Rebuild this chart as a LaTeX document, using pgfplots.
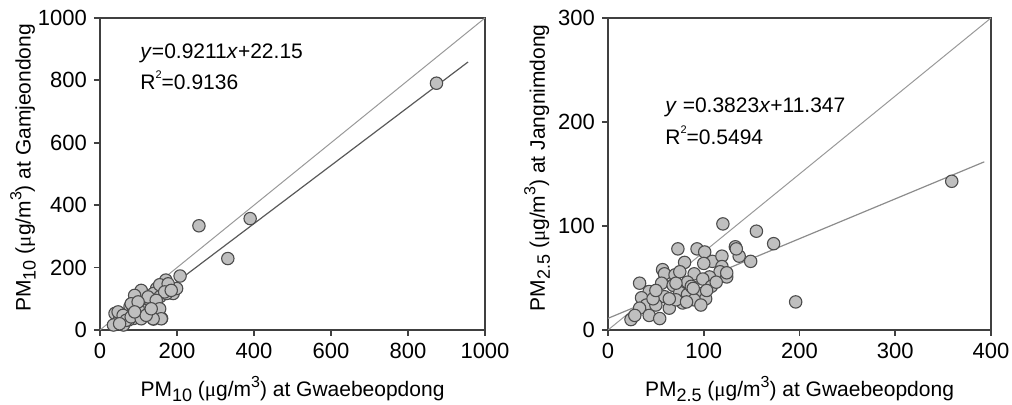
\documentclass[border=0pt]{standalone}
\usepackage{pgfplots}
\pgfplotsset{compat=1.18}
\usepackage{fontspec}
\setmainfont{Liberation Sans}
\newfontfamily\mufont{Liberation Serif}
\definecolor{ptfill}{gray}{0.75}
\definecolor{ptedge}{gray}{0.3}
\definecolor{axcol}{gray}{0.25}
\newcommand{\umu}{{\mufont μ}}
\newcommand{\sub}[1]{\raisebox{-0.45ex}{\fontsize{9}{10}\selectfont #1}}
\newcommand{\sups}[1]{\raisebox{0.85ex}{\fontsize{8}{9}\selectfont #1}}
\newcommand{\tsup}[1]{\raisebox{1.0ex}{\fontsize{5.5}{6}\selectfont #1}}
\begin{document}
\begin{tikzpicture}
\useasboundingbox (0,0) rectangle (506pt,202.5pt);
\pgfplotsset{myaxis/.style={
  scale only axis,
  axis line style={draw=axcol, line width=1pt},
  tick style={draw=axcol, line width=0.9pt},
  tick align=outside, major tick length=3pt,
  xtick pos=bottom, ytick pos=left,
  ticklabel style={font=\fontsize{11}{12}\selectfont},
  label style={font=\fontsize{10.5}{12}\selectfont},
  /pgf/number format/assume math mode=true,
  /pgf/number format/1000 sep={},
}}
\pgfplotsset{pts/.style={only marks, mark=*, mark size=3.1pt, mark options={fill=ptfill, draw=ptedge, line width=0.55pt}}}

% ---------------- Left panel
\begin{axis}[myaxis,
  at={(50pt,37.5pt)}, anchor=south west,
  width=192.5pt, height=156pt,
  xmin=0, xmax=1000, ymin=0, ymax=1000,
  xtick={0,200,...,1000}, ytick={0,200,...,1000},
  xlabel={PM\sub{10} (\umu g/m\sups{3}) at Gwaebeopdong},
  ylabel={PM\sub{10} (\umu g/m\sups{3}) at Gamjeondong},
  xlabel style={at={(axis description cs:0.5,-0.19)}, anchor=center},
  ylabel style={at={(axis description cs:-0.2,0.52)}, anchor=center},
]
\addplot[draw=black!40, line width=0.5pt] coordinates {(0,0) (1000,1000)};
\addplot[draw=black!65, line width=0.6pt] coordinates {(34,0) (956,859)};
\addplot[pts] coordinates {
(874,791) (390,357) (257,334) (332,229) (208,173)
(171,160) (165,141) (186,128) (147,133) (139,117) (190,117) (156,107)
(108,123) (91,109) (121,96) (100,91) (78,75) (95,75) (143,91) (143,66)
(160,37) (139,35) (113,64) (87,59) (52,53) (39,53) (65,37) (48,27)
(35,16) (61,16) (104,48) (126,48) (87,37) (74,32) (173,117) (199,133)
(155,145) (177,148) (168,122) (185,127) (107,127) (90,111) (125,106)
(146,95) (155,68) (159,36) (138,36) (116,63) (99,68) (81,84) (99,90)
(47,58) (60,47) (68,31) (51,20) (81,42) (107,36) (120,47) (133,68) (90,58)
};
\node[anchor=west, font=\fontsize{10.5}{12}\selectfont, inner sep=0pt] at (axis cs:104,888) {\textit{y}=0.9211\textit{x}+22.15};
\node[anchor=west, font=\fontsize{10.5}{12}\selectfont, inner sep=0pt] at (axis cs:104,801) {R\tsup{2}=0.9136};
\end{axis}

% ---------------- Right panel
\begin{axis}[myaxis,
  at={(304pt,37.5pt)}, anchor=south west,
  width=191.5pt, height=156pt,
  xmin=0, xmax=400, ymin=0, ymax=300,
  xtick={0,100,...,400}, ytick={0,100,...,300},
  xlabel={PM\sub{2.5} (\umu g/m\sups{3}) at Gwaebeopdong},
  ylabel={PM\sub{2.5} (\umu g/m\sups{3}) at Jangnimdong},
  xlabel style={at={(axis description cs:0.5,-0.19)}, anchor=center},
  ylabel style={at={(axis description cs:-0.185,0.52)}, anchor=center},
]
\addplot[draw=black!40, line width=0.5pt] coordinates {(0,0) (400,300)};
\addplot[draw=black!45, line width=0.6pt] coordinates {(0,11.2) (393,161.7)};
\addplot[pts] coordinates {
(359,143) (196,27) (120,102) (155,95) (173,83) (133,80) (137,71) (149,66)
(73,78) (93,78) (101,75) (80,65) (109,66) (119,71) (119,61) (117,56)
(124,51) (57,58) (59,54) (33,45) (90,54) (70,53) (106,51) (56,45)
(68,43) (83,46) (99,49) (108,42) (43,37) (35,31) (59,32) (75,36)
(83,34) (97,35) (102,30) (90,29) (78,26) (64,21) (40,24) (33,21)
(43,14) (54,11) (24,10) (28,14) (50,24) (71,29) (87,42) (103,38)
(113,46) (124,55) (82,27) (64,30) (47,30) (71,45) (75,56) (100,64)
(134,78) (50,38) (97,24) (89,40)
};
\node[anchor=west, font=\fontsize{10.5}{12}\selectfont, inner sep=0pt] at (axis cs:59.5,214) {\textit{y} =0.3823\textit{x}+11.347};
\node[anchor=west, font=\fontsize{10.5}{12}\selectfont, inner sep=0pt] at (axis cs:59.5,187.5) {R\tsup{2}=0.5494};
\end{axis}
\end{tikzpicture}
\end{document}
